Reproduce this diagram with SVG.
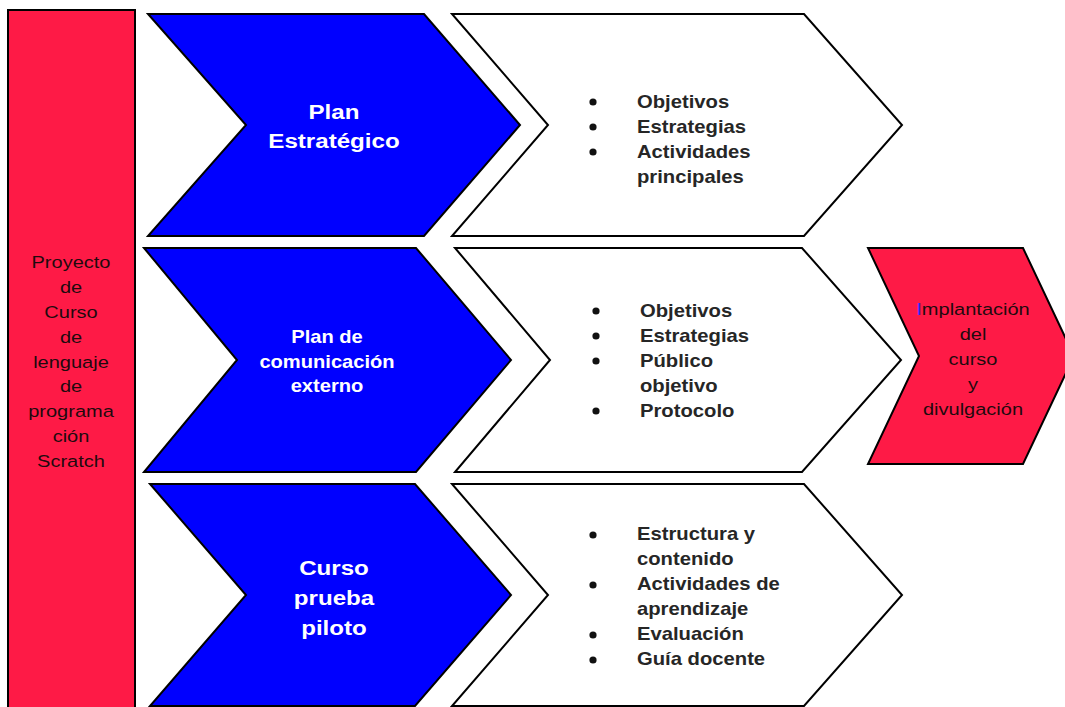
<svg xmlns="http://www.w3.org/2000/svg" width="1065" height="707" viewBox="0 0 1065 707">
  <style>
    .shape { stroke: #000; stroke-width: 2; stroke-linejoin: miter; }
    .red { fill: #fe1a46; }
    .blue { fill: #0000ff; }
    .white { fill: #ffffff; }
    .t { font-family: "Liberation Sans", Arial, sans-serif; }
    .title { font-weight: bold; fill: #ffffff; text-anchor: middle; }
    .dark { fill: #1e0a0e; font-size: 17.4px; text-anchor: middle; }
    .item { font-weight: bold; fill: #262626; font-size: 17.6px; }
    .dot { fill: #111; }
  </style>
  <rect width="1065" height="707" fill="#ffffff"/>

  <!-- project column -->
  <g id="proyecto">
    <rect class="shape red" x="8" y="10" width="127" height="710"/>
    <g class="t dark" transform="translate(71,0) scale(1.15,1)">
      <text x="0" y="268">Proyecto</text>
      <text x="0" y="293">de</text>
      <text x="0" y="318">Curso</text>
      <text x="0" y="343">de</text>
      <text x="0" y="368">lenguaje</text>
      <text x="0" y="392">de</text>
      <text x="0" y="417">programa</text>
      <text x="0" y="442">ción</text>
      <text x="0" y="467">Scratch</text>
    </g>
  </g>

  <!-- row 1 -->
  <g id="plan-estrategico">
    <polygon class="shape blue" points="148,14 424,14 520,125 424,236 148,236 246,125"/>
    <g class="t title" font-size="21" transform="translate(334,0) scale(1.15,1)">
      <text x="0" y="119">Plan</text>
      <text x="0" y="148">Estratégico</text>
    </g>
  </g>
  <g id="detalle-estrategico">
    <polygon class="shape white" points="452,14 804,14 902,125 804,236 452,236 548,125"/>
    <circle class="dot" cx="593" cy="102" r="3.6"/>
    <circle class="dot" cx="593" cy="127" r="3.6"/>
    <circle class="dot" cx="593" cy="152" r="3.6"/>
    <g class="t item" transform="translate(637,0) scale(1.15,1)">
      <text x="0" y="108">Objetivos</text>
      <text x="0" y="133">Estrategias</text>
      <text x="0" y="158">Actividades</text>
      <text x="0" y="183">principales</text>
    </g>
  </g>

  <!-- row 2 -->
  <g id="plan-comunicacion">
    <polygon class="shape blue" points="144,248 416,248 511,360 416,472 144,472 237,360"/>
    <g class="t title" font-size="17.5" transform="translate(327,0) scale(1.15,1)">
      <text x="0" y="343">Plan de</text>
      <text x="0" y="368">comunicación</text>
      <text x="0" y="392">externo</text>
    </g>
  </g>
  <g id="detalle-comunicacion">
    <polygon class="shape white" points="455,248 802,248 901,360 802,472 455,472 550,360"/>
    <circle class="dot" cx="596" cy="311" r="3.6"/>
    <circle class="dot" cx="596" cy="336" r="3.6"/>
    <circle class="dot" cx="596" cy="361" r="3.6"/>
    <circle class="dot" cx="596" cy="411" r="3.6"/>
    <g class="t item" transform="translate(640,0) scale(1.15,1)">
      <text x="0" y="317">Objetivos</text>
      <text x="0" y="342">Estrategias</text>
      <text x="0" y="367">Público</text>
      <text x="0" y="392">objetivo</text>
      <text x="0" y="417">Protocolo</text>
    </g>
  </g>

  <!-- row 3 -->
  <g id="curso-piloto">
    <polygon class="shape blue" points="150,484 415,484 511,595 415,706 150,706 246,595"/>
    <g class="t title" font-size="21" transform="translate(334,0) scale(1.15,1)">
      <text x="0" y="575">Curso</text>
      <text x="0" y="605">prueba</text>
      <text x="0" y="635">piloto</text>
    </g>
  </g>
  <g id="detalle-piloto">
    <polygon class="shape white" points="452,484 804,484 902,595 804,706 452,706 548,595"/>
    <circle class="dot" cx="593" cy="535" r="3.6"/>
    <circle class="dot" cx="593" cy="585" r="3.6"/>
    <circle class="dot" cx="593" cy="635" r="3.6"/>
    <circle class="dot" cx="593" cy="660" r="3.6"/>
    <g class="t item" transform="translate(637,0) scale(1.15,1)">
      <text x="0" y="540">Estructura y</text>
      <text x="0" y="565">contenido</text>
      <text x="0" y="590">Actividades de</text>
      <text x="0" y="615">aprendizaje</text>
      <text x="0" y="640">Evaluación</text>
      <text x="0" y="665">Guía docente</text>
    </g>
  </g>

  <!-- final stage -->
  <g id="implantacion">
    <polygon class="shape red" points="868,248 1023,248 1074,356 1023,464 868,464 919,356"/>
    <g class="t dark" transform="translate(973,0) scale(1.15,1)">
      <text x="0" y="315"><tspan fill="#2a2aff">I</tspan>mplantación</text>
      <text x="0" y="340">del</text>
      <text x="0" y="365">curso</text>
      <text x="0" y="390">y</text>
      <text x="0" y="415">divulgación</text>
    </g>
  </g>

  <!-- the chevrons abut directly; there are no separate connector lines -->
  <g id="connectors"/>
</svg>
